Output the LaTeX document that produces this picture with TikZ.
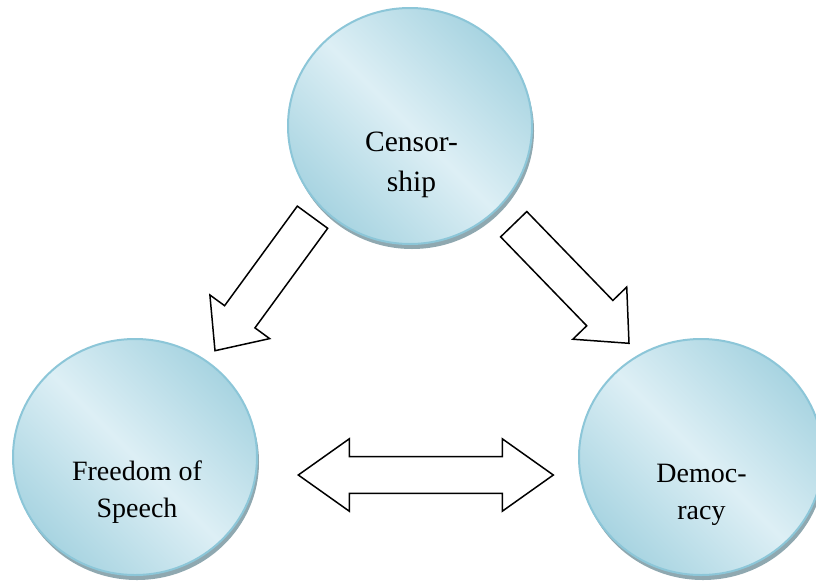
\documentclass[tikz,border=0pt]{standalone}
\usepackage{fontspec}
\setmainfont{Liberation Serif}
\usetikzlibrary{calc,shapes.geometric,shadows}
\definecolor{cdark}{HTML}{A8D4E1}
\definecolor{clight}{HTML}{DDEFF5}
\definecolor{cborder}{HTML}{8CC6D8}
\definecolor{cshadow}{HTML}{8FA8B0}
\tikzset{
  bubble/.style={ellipse, minimum width=244pt, minimum height=236pt, inner sep=0pt,
    draw=cborder, line width=2pt,
    top color=cdark, bottom color=cdark, middle color=clight, shading angle=-45,
    drop shadow={shadow xshift=2pt, shadow yshift=-5pt, fill=cshadow, opacity=1}},
  lbl/.style={align=center, inner sep=0pt, font=\fontsize{28}{37}\selectfont},
  blk/.style={draw=black, fill=white, line width=1.5pt, line join=miter}
}
\newcommand\blockarr[5]{%
  \coordinate (ba-n) at ($(#2)!#5!(#1)$);
  \draw[blk] ($(#1)!#3!90:(#2)$) -- ($(ba-n)!#3!90:(#2)$) -- ($(ba-n)!#4!90:(#2)$) -- (#2)
    -- ($(ba-n)!#4!-90:(#2)$) -- ($(ba-n)!#3!-90:(#2)$) -- ($(#1)!#3!-90:(#2)$) -- cycle;}
\newcommand\dblarr[5]{%
  \coordinate (da-n1) at ($(#1)!#5!(#2)$);
  \coordinate (da-n2) at ($(#2)!#5!(#1)$);
  \draw[blk] (#1) -- ($(da-n1)!#4!90:(#2)$) -- ($(da-n1)!#3!90:(#2)$)
    -- ($(da-n2)!#3!-90:(#1)$) -- ($(da-n2)!#4!-90:(#1)$) -- (#2)
    -- ($(da-n2)!#4!90:(#1)$) -- ($(da-n2)!#3!90:(#1)$)
    -- ($(da-n1)!#3!-90:(#2)$) -- ($(da-n1)!#4!-90:(#2)$) -- cycle;}
\begin{document}
\begin{tikzpicture}[x=1pt,y=-1pt]
\useasboundingbox (0,0) rectangle (816,584);
\fill[white] (0,0) rectangle (816,584);
% circles
\node[bubble] (cen) at (410,126) {};
\node[bubble] (fre) at (135,457) {};
\node[bubble] (dem) at (701,457) {};
% labels
\node[lbl, font=\fontsize{29.5}{40}\selectfont] (tcen) at ($(cen)+(1.5,39)$) {Censor-\\ship};
\node[lbl] (tfre) at ($(fre)+(2,35)$) {Freedom of\\Speech};
\node[lbl] (tdem) at ($(dem)+(0.5,38)$) {Democ-\\racy};
% arrow end points
\coordinate (a1s) at (312.5,217.2);
\coordinate (a1t) at (215,350.7);
\coordinate (a2s) at (513.7,224.2);
\coordinate (a2t) at (629,343.3);
\coordinate (d1) at (298.3,475);
\coordinate (d2) at (553.3,475);
\blockarr{a1s}{a1t}{18.8pt}{37pt}{42pt}
\blockarr{a2s}{a2t}{18.2pt}{37.5pt}{42pt}
\dblarr{d1}{d2}{18.4pt}{36.2pt}{51pt}
\end{tikzpicture}
\end{document}
